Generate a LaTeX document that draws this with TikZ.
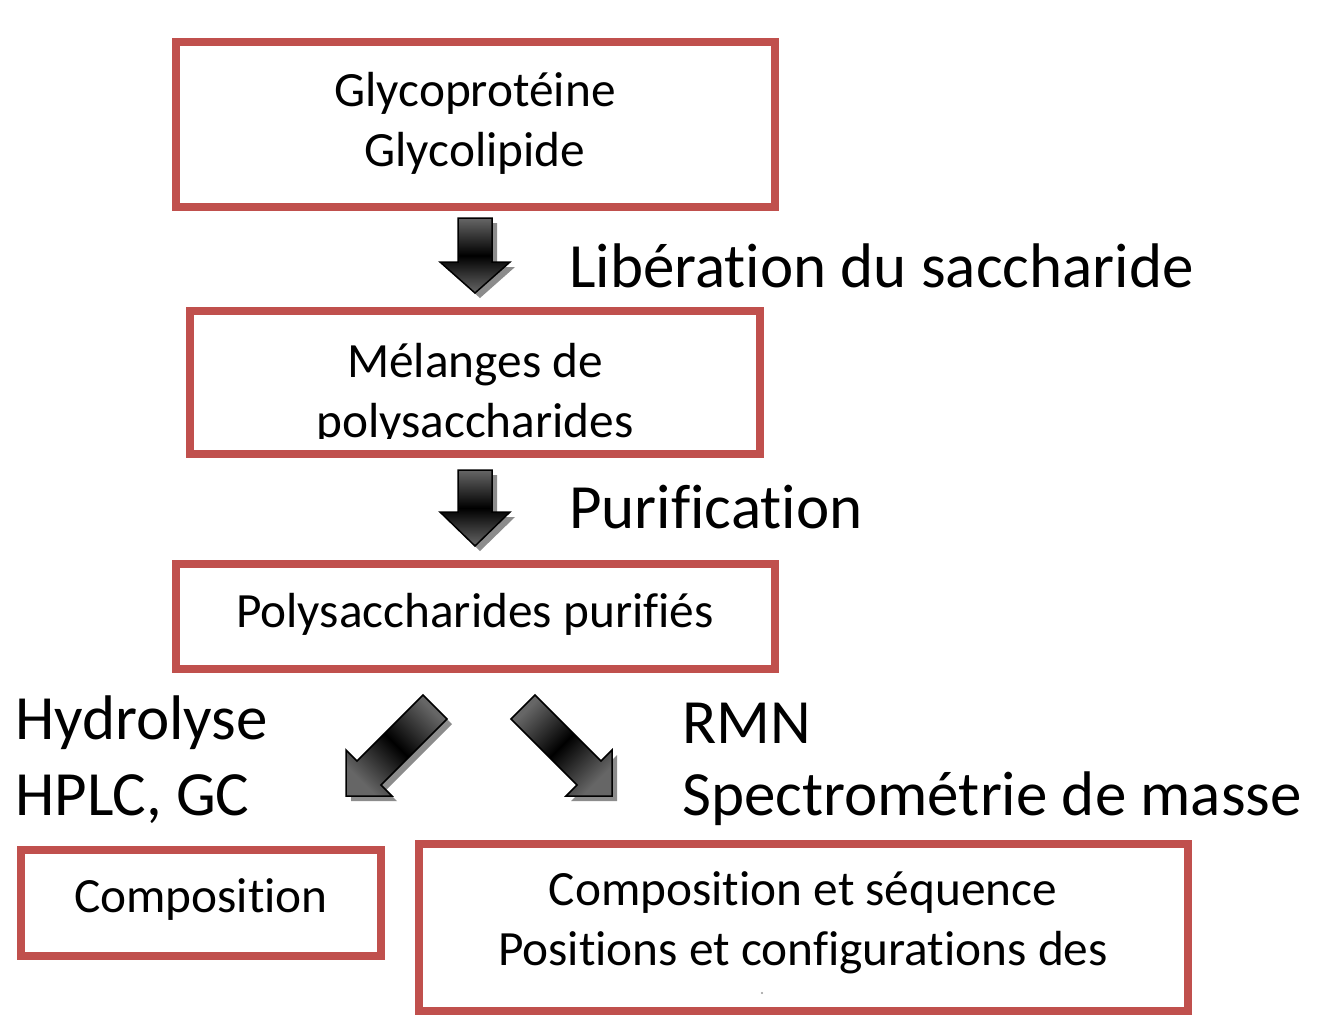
\documentclass[tikz,border=0pt]{standalone}
\usepackage{fontspec}
\setmainfont[Ligatures=NoCommon]{Carlito}
\definecolor{boxred}{HTML}{C0504D}
\begin{document}
\begin{tikzpicture}[x=1pt,y=-1pt,
  box/.style={draw=boxred, line width=8pt, fill=none, inner sep=0pt},
  boxtext/.style={font=\fontsize{49.3}{60}\selectfont, align=center, inner sep=0pt},
  lbl/.style={font=\fontsize{63}{76}\selectfont, anchor=west, inner sep=0pt},
  blockarrow/.style={draw=black, line width=1.5pt, line join=miter, top color=black!60, bottom color=black!60, middle color=black},
  arrowshadow/.style={fill=black!45, draw=none}
]
\useasboundingbox (0,0) rectangle (1334,1034);
\fill[white] (0,0) rectangle (1334,1034);

% boxes
\node[box, minimum width=599pt, minimum height=165pt] (b1) at (475.5,124.5) {};
\node[box, minimum width=570pt, minimum height=143pt] (b2) at (475,382.5) {};
\node[box, minimum width=599pt, minimum height=105pt] (b3) at (475.5,616.5) {};
\node[box, minimum width=360pt, minimum height=106pt] (b4) at (201,903) {};
\node[box, minimum width=769pt, minimum height=167pt] (b5) at (803.5,927.5) {};

% box texts
\node[boxtext] (t1) at (475,123) {Glycoprotéine\\Glycolipide};
\node[boxtext, anchor=base] (t2a) at (475,377) {Mélanges de};
\begin{scope}
\clip (200,380) rectangle (750,438);
\node[boxtext, anchor=base] (t2b) at (475,437) {polysaccharides};
\end{scope}
\node[boxtext] (t3) at (475,614) {Polysaccharides purifiés};
\node[boxtext] (t4) at (201,900) {Composition};
\node[boxtext] (t5) at (803,923) {Composition et séquence\\Positions et configurations des};
\fill[black!40] (762,993) circle (1.2pt);

% labels
\node[lbl] (l1) at (569,266) {Libération du saccharide};
\node[lbl] (l2) at (569,507) {Purification};
\node[lbl] (l3) at (15,723) {Hydrolyse};
\node[lbl] (l4) at (15,799) {HPLC, GC};
\node[lbl] (l5) at (682,723) {RMN};
\node[lbl] (l6) at (682,799) {Spectrométrie de masse};

% down arrows
\foreach \yt/\yb/\yp in {218/262/293, 470/512/546}{
  \fill[arrowshadow, shift={(5pt,-5pt)}] (458,\yt)--(492,\yt)--(492,\yb)--(510,\yb)--(475,\yp)--(440,\yb)--(458,\yb)--cycle;
  \path[blockarrow] (458,\yt)--(492,\yt)--(492,\yb)--(510,\yb)--(475,\yp)--(440,\yb)--(458,\yb)--cycle;
}
% diagonal arrows
\fill[arrowshadow, shift={(5pt,-5pt)}] (346,796)--(346,750)--(357,761)--(423,695)--(447,719)--(381,785)--(392,796)--cycle;
\path[blockarrow, shading angle=-45] (346,796)--(346,750)--(357,761)--(423,695)--(447,719)--(381,785)--(392,796)--cycle;
\fill[arrowshadow, shift={(5pt,-5pt)}] (612,796)--(612,750)--(601,761)--(535,695)--(511,719)--(577,785)--(566,796)--cycle;
\path[blockarrow, shading angle=45] (612,796)--(612,750)--(601,761)--(535,695)--(511,719)--(577,785)--(566,796)--cycle;
\end{tikzpicture}
\end{document}
